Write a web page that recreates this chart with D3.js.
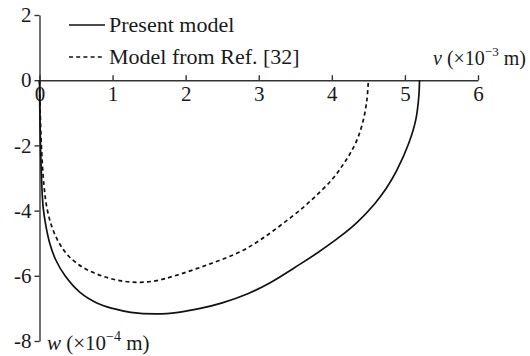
<!DOCTYPE html>
<html>
<head>
<meta charset="utf-8">
<script src="https://cdn.jsdelivr.net/npm/d3@7/dist/d3.min.js"></script>
<style>
  html, body { margin: 0; padding: 0; background: #fff; }
  svg { display: block; }
  text { font-family: "Liberation Serif", "Times New Roman", serif; fill: #1a1a1a; }
</style>
</head>
<body>
<svg id="chart" width="530" height="356"></svg>
<script>
// Horizontal displacement v (x10^-3 m) and vertical displacement w (x10^-4 m)
const presentV = [0, 0.005, 0.02, 0.05, 0.09, 0.14, 0.22, 0.35, 0.55, 0.8, 1.0, 1.25, 1.6, 1.9, 2.2, 2.5, 2.85, 3.15, 3.56, 3.8, 4.11, 4.35, 4.59, 4.75, 4.89, 5.05, 5.15, 5.19, 5.2];
const presentW = [0, -1.0, -2.5, -3.9, -4.5, -5.0, -5.5, -6.0, -6.5, -6.85, -7.0, -7.12, -7.17, -7.12, -7.0, -6.83, -6.55, -6.22, -5.65, -5.3, -4.8, -4.35, -3.78, -3.3, -2.76, -1.95, -1.2, -0.5, 0];

const refV = [0, 0.01, 0.03, 0.06, 0.1, 0.17, 0.27, 0.4, 0.6, 0.85, 1.1, 1.35, 1.6, 1.85, 2.29, 2.74, 3.02, 3.3, 3.61, 3.85, 4.02, 4.15, 4.25, 4.35, 4.43, 4.48, 4.5];
const refW = [0, -1.0, -2.2, -3.2, -3.9, -4.5, -5.0, -5.4, -5.75, -6.0, -6.15, -6.2, -6.15, -6.0, -5.67, -5.27, -4.9, -4.45, -3.9, -3.4, -3.0, -2.6, -2.25, -1.8, -1.23, -0.6, 0];

const xTicks = [0, 1, 2, 3, 4, 5, 6];
const yTicks = [2, 0, -2, -4, -6, -8];
const legendLabels = ["Present model", "Model from Ref. [32]"];

const svg = d3.select("#chart");
const x = d3.scaleLinear().domain([0, 6]).range([39.5, 478]);
const y = d3.scaleLinear().domain([-8, 2]).range([341, 15]);
const axisColor = "#333";

// Vertical axis (w), ticks to the left
const yAxis = svg.append("g")
  .attr("transform", `translate(${x(0)},0)`)
  .call(d3.axisLeft(y).tickValues(yTicks).tickFormat(d3.format("d")).tickSizeInner(5).tickSizeOuter(0).tickPadding(3));
yAxis.select(".domain").attr("stroke", axisColor).attr("stroke-width", 1.4);
yAxis.selectAll(".tick line").attr("stroke", axisColor).attr("stroke-width", 1.4);
yAxis.selectAll(".tick text").attr("font-size", 21).attr("fill", "#1a1a1a")
  .text(d => d < 0 ? "-" + Math.abs(d) : d);

// Horizontal axis (v) through w = 0, ticks pointing up, labels below
const xAxis = svg.append("g")
  .attr("transform", `translate(0,${y(0)})`)
  .call(d3.axisBottom(x).tickValues(xTicks).tickFormat(d3.format("d")).tickSize(0).tickPadding(6));
xAxis.select(".domain").attr("stroke", axisColor).attr("stroke-width", 1.4);
xAxis.selectAll(".tick line").attr("y2", -5).attr("stroke", axisColor).attr("stroke-width", 1.4);
xAxis.selectAll(".tick text").attr("font-size", 21).attr("fill", "#1a1a1a");

// Axis titles
const vTitle = svg.append("text").attr("x", 433).attr("y", 65).attr("font-size", 20);
vTitle.append("tspan").attr("font-style", "italic").text("v");
vTitle.append("tspan").text(" (\u00d710");
vTitle.append("tspan").attr("font-size", 13).attr("dy", -9).text("\u22123");
vTitle.append("tspan").attr("dy", 9).text(" m)");

const wTitle = svg.append("text").attr("x", 47).attr("y", 350).attr("font-size", 21);
wTitle.append("tspan").attr("font-style", "italic").text("w");
wTitle.append("tspan").text(" (\u00d710");
wTitle.append("tspan").attr("font-size", 14).attr("dy", -9).text("\u22124");
wTitle.append("tspan").attr("dy", 9).text(" m)");

// Curves
const line = d3.line().x(d => x(d[0])).y(d => y(d[1])).curve(d3.curveCatmullRom.alpha(0.5));
const seriesList = [
  { v: presentV, w: presentW, dash: null },
  { v: refV, w: refW, dash: "4,3.2" }
];
seriesList.forEach(s => {
  svg.append("path")
    .datum(s.v.map((v, i) => [v, s.w[i]]))
    .attr("d", line)
    .attr("fill", "none")
    .attr("stroke", "#111")
    .attr("stroke-width", 1.7)
    .attr("stroke-dasharray", s.dash);
});

// Legend
const legend = svg.append("g");
legendLabels.forEach((label, i) => {
  const ly = 25 + i * 32;
  legend.append("line")
    .attr("x1", 69).attr("x2", 105).attr("y1", ly).attr("y2", ly)
    .attr("stroke", "#111").attr("stroke-width", 1.6)
    .attr("stroke-dasharray", seriesList[i].dash);
  legend.append("text")
    .attr("x", 109).attr("y", ly + 7)
    .attr("font-size", 22)
    .text(label);
});
</script>
</body>
</html>
